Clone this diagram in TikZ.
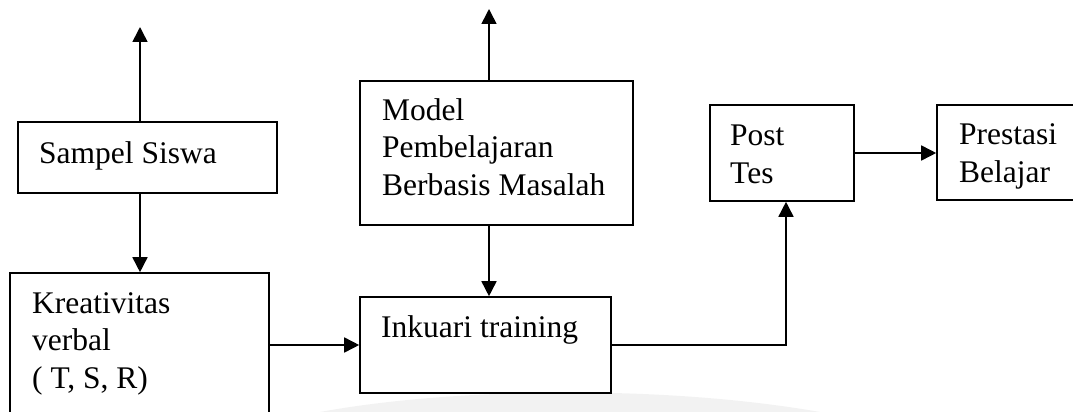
\documentclass[tikz,border=0pt]{standalone}
\usepackage{fontspec}
\setmainfont{Liberation Serif}
\usetikzlibrary{arrows.meta,calc}

\begin{document}
\begin{tikzpicture}[x=1pt, y=-1pt,
    box/.style={draw, line width=1.6pt, inner sep=0pt},
    txt/.style={anchor=base west, align=left, inner sep=0pt,
      font=\fontsize{31.5}{37.5}\selectfont},
    arr/.style={line width=1.6pt, -{Triangle[length=15pt, width=15pt]}}]
  \useasboundingbox (0,0) rectangle (1073,412);
  \clip (0,0) rectangle (1073,412);
  \fill[black!5] (320,412) .. controls (450,388) and (660,384) .. (820,412) -- cycle;
  \node[box, minimum width=259, minimum height=71] (sampel) at (147.5,157.5) {};
  \node[box, minimum width=259, minimum height=167] (kreatif) at (139.5,356.5) {};
  \node[box, minimum width=273, minimum height=144] (model) at (496.5,153) {};
  \node[box, minimum width=251, minimum height=96] (inkuari) at (485.5,345) {};
  \node[box, minimum width=144, minimum height=96] (post) at (782,153) {};
  \node[box, minimum width=163, minimum height=95] (prestasi) at (1018.5,152.5) {};
  \node[txt] (sampeltxt) at (39,163) {Sampel Siswa};
  \node[txt] (kreatiftxt) at (32,388) {Kreativitas\\verbal\\( T, S, R)};
  \node[txt] (modeltxt) at (382,195) {Model\\Pembelajaran\\Berbasis Masalah};
  \node[txt] (inkuaritxt) at (381,337) {Inkuari training};
  \node[txt] (posttxt) at (730,183) {Post\\Tes};
  \node[txt] (prestasitxt) at (959,182) {Prestasi\\Belajar};
  \coordinate (sampeltop) at (140,27);
  \coordinate (modeltop) at (489,9);
  \draw[arr] (sampel.north -| sampeltop) -- (sampeltop);
  \draw[arr] (sampel.south -| sampeltop) -- (kreatif.north -| sampeltop);
  \draw[arr] (model.north -| modeltop) -- (modeltop);
  \draw[arr] (model.south -| modeltop) -- (inkuari.north -| modeltop);
  \draw[arr] (kreatif.east |- inkuari.west) -- (inkuari.west);
  \draw[arr] (inkuari.east) -| ([xshift=4pt]post.south);
  \draw[arr] (post.east) -- (post.east -| prestasi.west);
\end{tikzpicture}
\end{document}
